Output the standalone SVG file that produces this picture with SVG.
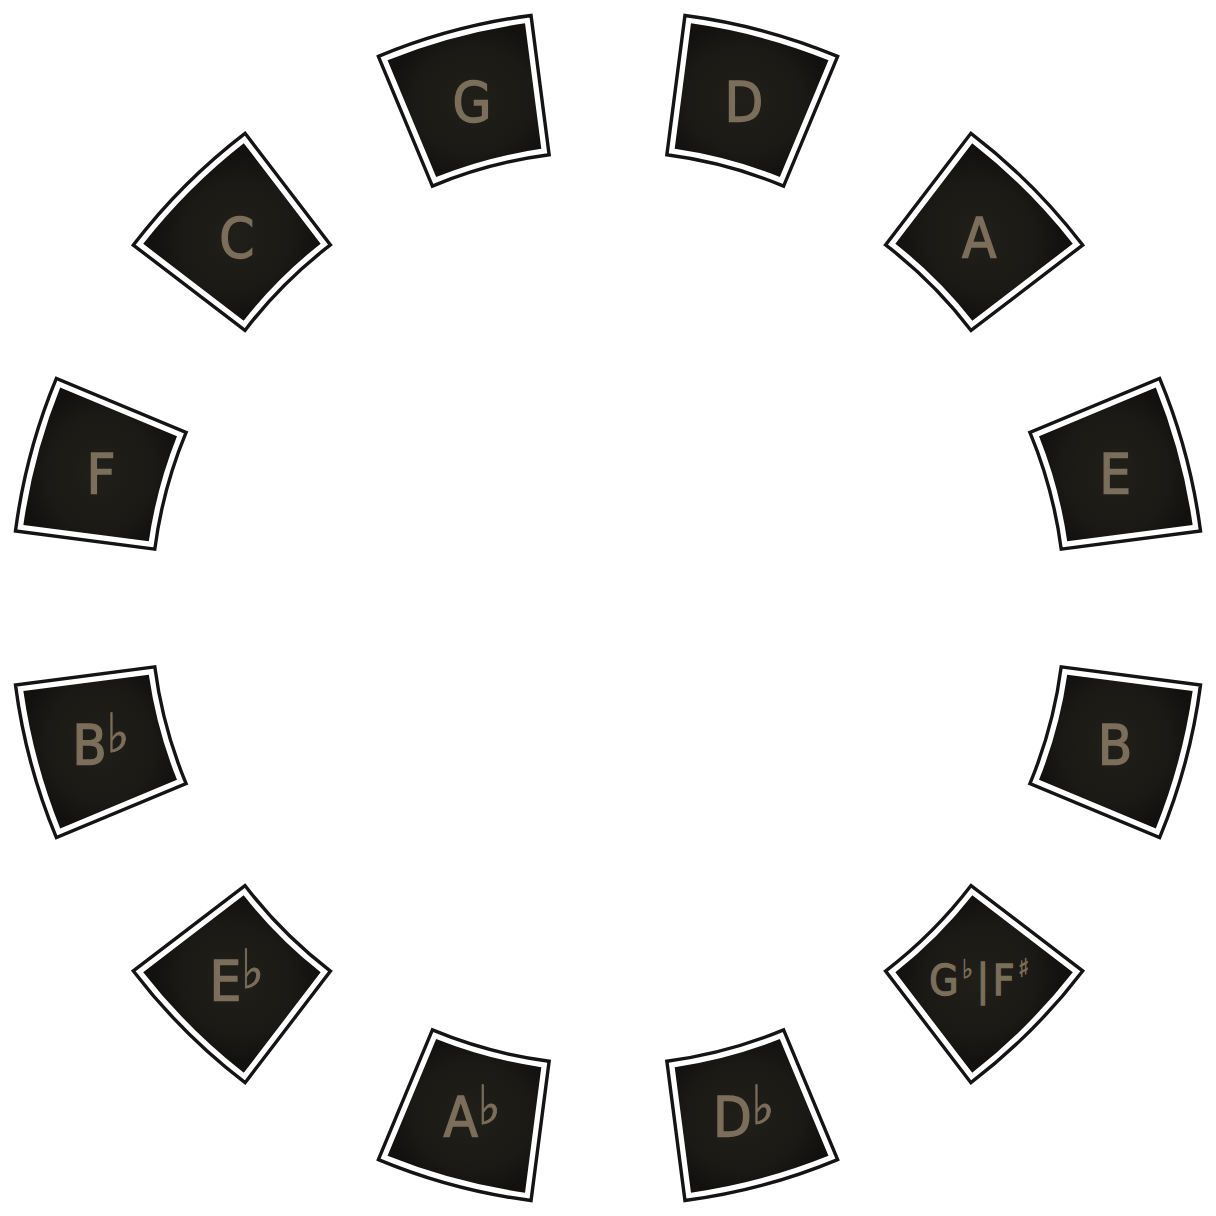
<svg xmlns="http://www.w3.org/2000/svg" xmlns:xlink="http://www.w3.org/1999/xlink" width="1216" height="1216" viewBox="0 0 1216 1216">
<style>
.frame{fill:#ffffff;stroke:#141414;stroke-width:3.4;stroke-linejoin:miter}
.face{fill:url(#faceGrad)}
.lbl{font-family:"DejaVu Sans Condensed","DejaVu Sans","Liberation Sans",sans-serif;font-stretch:condensed;font-size:56px;fill:#7b6e5a;stroke:#7b6e5a;stroke-width:1.3;text-anchor:middle}
.acc{font-size:54px;stroke-width:0.8}
.small{font-size:42px}
.acc2{font-size:26px;stroke-width:0.6}
</style>
<defs>
<radialGradient id="faceGrad" cx="50%" cy="50%" r="60%">
<stop offset="0" stop-color="#211f1a"/>
<stop offset="0.7" stop-color="#1b1915"/>
<stop offset="1" stop-color="#121110"/>
</radialGradient>
<g id="tile">
<path class="frame" d="M528.98 15.75 A597.5 597.5 0 0 1 687.02 15.75 L668.44 155.01 A457 457 0 0 0 547.56 155.01 Z"/>
<path class="face" d="M536.84 21.80 A590.5 590.5 0 0 1 679.16 21.80 L662.43 147.20 A464 464 0 0 0 553.57 147.20 Z"/>
</g>
</defs>
<g id="connectors"/>
<g id="node-G"><use xlink:href="#tile" transform="rotate(-15 608 608)"/><text class="lbl" x="472.12" y="121.4">G</text></g>
<g id="node-D"><use xlink:href="#tile" transform="rotate(15 608 608)"/><text class="lbl" x="743.88" y="121.4">D</text></g>
<g id="node-A"><use xlink:href="#tile" transform="rotate(45 608 608)"/><text class="lbl" x="979.23" y="257.3">A</text></g>
<g id="node-E"><use xlink:href="#tile" transform="rotate(75 608 608)"/><text class="lbl" x="1115.11" y="492.6">E</text></g>
<g id="node-B"><use xlink:href="#tile" transform="rotate(105 608 608)"/><text class="lbl" x="1115.11" y="764.4">B</text></g>
<g id="node-GbFs"><use xlink:href="#tile" transform="rotate(135 608 608)"/><text class="lbl small" x="979.23" y="995" textLength="100" lengthAdjust="spacing">G<tspan class="acc2" dy="-17">♭</tspan><tspan dy="17">|F</tspan><tspan class="acc2" dy="-18">♯</tspan></text></g>
<g id="node-Db"><use xlink:href="#tile" transform="rotate(165 608 608)"/><text class="lbl" x="743.88" y="1135.6">D<tspan class="acc" dy="-12">♭</tspan></text></g>
<g id="node-Ab"><use xlink:href="#tile" transform="rotate(195 608 608)"/><text class="lbl" x="472.12" y="1135.6">A<tspan class="acc" dy="-12">♭</tspan></text></g>
<g id="node-Eb"><use xlink:href="#tile" transform="rotate(225 608 608)"/><text class="lbl" x="236.77" y="999.7">E<tspan class="acc" dy="-12">♭</tspan></text></g>
<g id="node-Bb"><use xlink:href="#tile" transform="rotate(255 608 608)"/><text class="lbl" x="100.89" y="764.4">B<tspan class="acc" dy="-12">♭</tspan></text></g>
<g id="node-F"><use xlink:href="#tile" transform="rotate(285 608 608)"/><text class="lbl" x="100.89" y="492.6">F</text></g>
<g id="node-C"><use xlink:href="#tile" transform="rotate(315 608 608)"/><text class="lbl" x="236.77" y="257.3">C</text></g>
</svg>
